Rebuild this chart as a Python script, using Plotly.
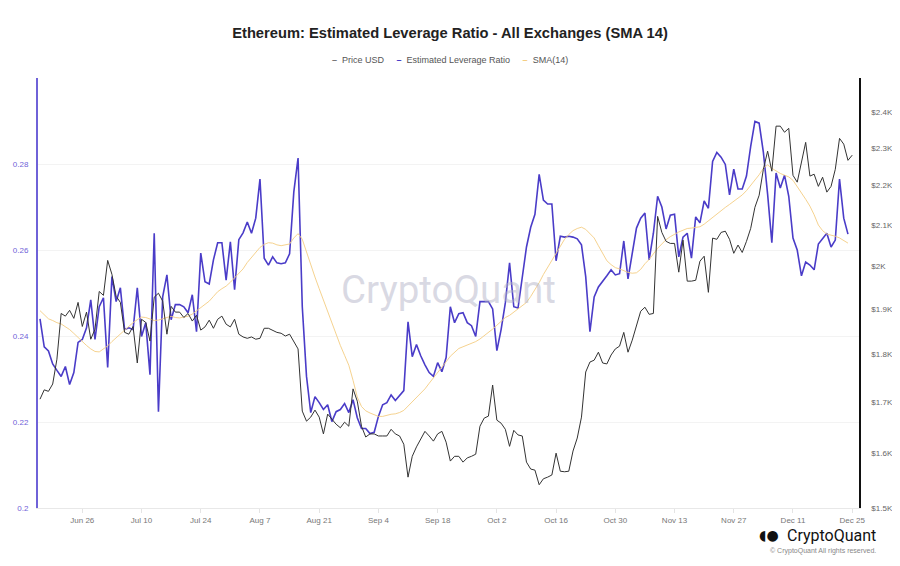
import math
import pandas as pd
import plotly.graph_objects as go

# ---------------- data ----------------
start_date = "2023-06-16"

leverage = [
    0.2440, 0.2375, 0.2365, 0.2335, 0.2320, 0.2306, 0.2329, 0.2287, 0.2315, 0.2385,
    0.2392, 0.2419, 0.2484, 0.2392, 0.2468, 0.2489, 0.2327, 0.2538, 0.2480, 0.2512,
    0.2415, 0.2419, 0.2415, 0.2512, 0.2399, 0.2431, 0.2310, 0.2639, 0.2224, 0.2491,
    0.2542, 0.2438, 0.2473, 0.2473, 0.2468, 0.2454, 0.2496, 0.2410, 0.2593, 0.2526,
    0.2521, 0.2577, 0.2617, 0.2617, 0.2530, 0.2619, 0.2508, 0.2624, 0.2640, 0.2665,
    0.2639, 0.2674, 0.2765, 0.2581, 0.2565, 0.2584, 0.2570, 0.2568, 0.2570, 0.2591,
    0.2735, 0.2814, 0.2468, 0.2306, 0.2222, 0.2259, 0.2245, 0.2229, 0.2240, 0.2201,
    0.2224, 0.2229, 0.2243, 0.2222, 0.2252, 0.2210, 0.2185, 0.2185, 0.2173, 0.2176,
    0.2213, 0.2240, 0.2245, 0.2263, 0.2250, 0.2261, 0.2273, 0.2433, 0.2352, 0.2380,
    0.2354, 0.2333, 0.2315, 0.2306, 0.2338, 0.2317, 0.2350, 0.2468, 0.2431, 0.2452,
    0.2454, 0.2431, 0.2424, 0.2399, 0.2480, 0.2480, 0.2480, 0.2463, 0.2366, 0.2415,
    0.2477, 0.2570, 0.2468, 0.2465, 0.2538, 0.2607, 0.2653, 0.2683, 0.2776, 0.2716,
    0.2707, 0.2707, 0.2575, 0.2632, 0.2630, 0.2632, 0.2630, 0.2626, 0.2612, 0.2538,
    0.2410, 0.2491, 0.2514, 0.2526, 0.2540, 0.2554, 0.2542, 0.2545, 0.2621, 0.2533,
    0.2593, 0.2651, 0.2674, 0.2686, 0.2577, 0.2639, 0.2725, 0.2700, 0.2649, 0.2681,
    0.2683, 0.2584, 0.2630, 0.2639, 0.2581, 0.2677, 0.2663, 0.2714, 0.2697, 0.2806,
    0.2827, 0.2816, 0.2799, 0.2728, 0.2788, 0.2742, 0.2742, 0.2772, 0.2841, 0.2899,
    0.2895, 0.2827, 0.2730, 0.2617, 0.2779, 0.2744, 0.2774, 0.2725, 0.2628, 0.2600,
    0.2540, 0.2572, 0.2565, 0.2554, 0.2614, 0.2628, 0.2639, 0.2607, 0.2623, 0.2765,
    0.2674, 0.2637,
]

sma14 = [
    0.2459, 0.2450, 0.2440, 0.2436, 0.2431, 0.2428, 0.2422, 0.2415, 0.2406, 0.2396,
    0.2388, 0.2378, 0.2370, 0.2364, 0.2363, 0.2369, 0.2377, 0.2387, 0.2396, 0.2405,
    0.2413, 0.2422, 0.2431, 0.2438, 0.2444, 0.2443, 0.2439, 0.2436, 0.2437, 0.2440,
    0.2444, 0.2446, 0.2443, 0.2442, 0.2444, 0.2446, 0.2451, 0.2458, 0.2466, 0.2474,
    0.2481, 0.2492, 0.2503, 0.2510, 0.2516, 0.2525, 0.2536, 0.2545, 0.2556, 0.2571,
    0.2583, 0.2596, 0.2606, 0.2613, 0.2617, 0.2616, 0.2612, 0.2610, 0.2612, 0.2614,
    0.2628, 0.2638, 0.2625, 0.2594, 0.2568, 0.2537, 0.2510, 0.2484, 0.2455, 0.2430,
    0.2402, 0.2378, 0.2355, 0.2332, 0.2297, 0.2258, 0.2236, 0.2226, 0.2221, 0.2217,
    0.2213, 0.2213, 0.2216, 0.2218, 0.2219, 0.2222, 0.2227, 0.2237, 0.2245, 0.2255,
    0.2266, 0.2277, 0.2290, 0.2302, 0.2314, 0.2328, 0.2340, 0.2353, 0.2362, 0.2371,
    0.2375, 0.2379, 0.2383, 0.2387, 0.2393, 0.2400, 0.2407, 0.2416, 0.2425, 0.2435,
    0.2443, 0.2448, 0.2455, 0.2462, 0.2470, 0.2478, 0.2492, 0.2507, 0.2524, 0.2543,
    0.2560, 0.2577, 0.2592, 0.2608, 0.2625, 0.2636, 0.2645, 0.2650, 0.2653, 0.2648,
    0.2639, 0.2628, 0.2610, 0.2593, 0.2575, 0.2566, 0.2559, 0.2556, 0.2552, 0.2548,
    0.2546, 0.2547, 0.2555, 0.2568, 0.2578, 0.2592, 0.2604, 0.2614, 0.2624, 0.2631,
    0.2637, 0.2642, 0.2646, 0.2650, 0.2651, 0.2652, 0.2654, 0.2660, 0.2668, 0.2676,
    0.2685, 0.2692, 0.2699, 0.2706, 0.2713, 0.2720, 0.2728, 0.2738, 0.2750, 0.2762,
    0.2775, 0.2790, 0.2798, 0.2790, 0.2783, 0.2778, 0.2774, 0.2770, 0.2762, 0.2748,
    0.2735, 0.2718, 0.2702, 0.2682, 0.2658, 0.2645, 0.2637, 0.2635, 0.2632, 0.2628,
    0.2622, 0.2616,
]

price_usd = [
    1707, 1726, 1723, 1738, 1790, 1890, 1884, 1897, 1879, 1915,
    1861, 1893, 1833, 1855, 1940, 1931, 2013, 1980, 1929, 1915,
    1848, 1844, 1861, 1782, 1877, 1870, 1829, 1927, 1936, 1918,
    1844, 1906, 1893, 1893, 1881, 1890, 1873, 1886, 1853, 1860,
    1875, 1857, 1877, 1884, 1866, 1860, 1877, 1844, 1838, 1835,
    1838, 1833, 1835, 1857, 1857, 1853, 1848, 1846, 1840, 1844,
    1829, 1812, 1683, 1663, 1671, 1685, 1671, 1638, 1677, 1667,
    1657, 1650, 1661, 1653, 1728, 1703, 1653, 1632, 1638, 1638,
    1634, 1634, 1634, 1647, 1638, 1634, 1618, 1556, 1595, 1613,
    1628, 1643, 1634, 1624, 1638, 1643, 1622, 1586, 1595, 1595,
    1584, 1592, 1595, 1599, 1653, 1669, 1673, 1736, 1665, 1659,
    1647, 1614, 1645, 1636, 1634, 1584, 1571, 1569, 1542, 1553,
    1556, 1560, 1601, 1567, 1566, 1567, 1605, 1630, 1671, 1763,
    1784, 1788, 1805, 1782, 1780, 1799, 1812, 1818, 1848, 1805,
    1831, 1861, 1895, 1904, 1888, 1890, 2121, 2081, 2059, 2054,
    2054, 1985, 2062, 1964, 1964, 1966, 2011, 2023, 1938, 2067,
    2064, 2081, 2084, 2064, 2030, 2050, 2032, 2059, 2091, 2144,
    2175, 2243, 2292, 2238, 2361, 2361, 2344, 2355, 2227, 2209,
    2259, 2316, 2225, 2230, 2198, 2222, 2183, 2198, 2243, 2327,
    2311, 2267, 2281,
]

x_tick_dates = ["2023-06-26", "2023-07-10", "2023-07-24", "2023-08-07", "2023-08-21",
                "2023-09-04", "2023-09-18", "2023-10-02", "2023-10-16", "2023-10-30",
                "2023-11-13", "2023-11-27", "2023-12-11", "2023-12-25"]
x_tick_labels = ["Jun 26", "Jul 10", "Jul 24", "Aug 7", "Aug 21", "Sep 4", "Sep 18",
                 "Oct 2", "Oct 16", "Oct 30", "Nov 13", "Nov 27", "Dec 11", "Dec 25"]

left_ticks = [0.2, 0.22, 0.24, 0.26, 0.28]
left_tick_labels = ["0.2", "0.22", "0.24", "0.26", "0.28"]
right_ticks = [1500, 1600, 1700, 1800, 1900, 2000, 2100, 2200, 2300, 2400]
right_tick_labels = ["$1.5K", "$1.6K", "$1.7K", "$1.8K", "$1.9K", "$2K",
                     "$2.1K", "$2.2K", "$2.3K", "$2.4K"]

series_names = ["Price USD", "Estimated Leverage Ratio", "SMA(14)"]

lev_dates = pd.date_range(start_date, periods=len(leverage), freq="D")
price_dates = pd.date_range(start_date, periods=len(price_usd), freq="D")

# ---------------- styles ----------------
SANS = "Liberation Sans, Arial, sans-serif"
BLUE = "#4a3cc8"
AXIS_PURPLE = "#6f62d8"
SMA_COLOR = "#f4cd82"
PRICE_COLOR = "#333333"

fig = go.Figure()
fig.add_trace(go.Scatter(x=price_dates, y=price_usd, name=series_names[0], mode="lines",
                         line=dict(color=PRICE_COLOR, width=1), yaxis="y2", showlegend=False))
fig.add_trace(go.Scatter(x=lev_dates, y=leverage, name=series_names[1], mode="lines",
                         line=dict(color=BLUE, width=1.6), showlegend=False))
fig.add_trace(go.Scatter(x=lev_dates, y=sma14, name=series_names[2], mode="lines",
                         line=dict(color=SMA_COLOR, width=0.9), showlegend=False))

# compact legend (short line keys), written as text
legend_colors = ["#777", BLUE, SMA_COLOR]
gap = "\u00a0" * 5
legend_text = gap.join(
    f"<span style='color:{c}'><b>\u2013</b></span>\u00a0\u00a0{n}"
    for c, n in zip(legend_colors, series_names)
)

# page has an 8px body margin: figure is 892x550 placed at (8, 8)
fig.update_layout(
    width=892, height=550,
    margin=dict(l=30, r=41, t=70, b=50, autoexpand=False),
    paper_bgcolor="white", plot_bgcolor="white",
    font=dict(family=SANS, color="#555"),
    showlegend=False,
    title=dict(text="<b>Ethereum: Estimated Leverage Ratio - All Exchanges (SMA 14)</b>",
               x=(450 - 8) / 892, xanchor="center", y=1 - 25 / 550, yanchor="middle",
               yref="container", xref="container",
               font=dict(size=14.7, color="#222", family=SANS)),
    xaxis=dict(type="date", range=["2023-06-15 12:40", "2023-12-26 14:30"],
               tickvals=x_tick_dates, ticktext=x_tick_labels,
               tickfont=dict(size=8, color="#777"), showgrid=False,
               showline=True, linecolor="#e8e8e8", linewidth=1,
               ticks="outside", ticklen=4, tickcolor="#e4e4e4", zeroline=False),
    yaxis=dict(range=[0.2, 0.3], tickvals=left_ticks, ticktext=left_tick_labels,
               tickfont=dict(size=8, color=AXIS_PURPLE), showgrid=True, gridcolor="#f3f3f3",
               showline=True, linecolor=AXIS_PURPLE, linewidth=2, zeroline=False,
               ticks="", ticklabelstandoff=6),
    yaxis2=dict(type="log", range=[math.log10(1500), math.log10(2500)], overlaying="y",
                side="right", tickvals=right_ticks, ticktext=right_tick_labels,
                tickfont=dict(size=8, color="#666"), showgrid=False,
                showline=True, linecolor="#111", linewidth=1.5, zeroline=False,
                ticks="", ticklabelstandoff=9),
    annotations=[
        dict(text=legend_text, x=0.502, y=1.042, xref="paper", yref="paper",
             showarrow=False, font=dict(size=9, color="#555", family=SANS),
             xanchor="center", yanchor="middle"),
        dict(text="CryptoQuant", x=0.5, y=0.507, xref="paper", yref="paper",
             showarrow=False, font=dict(size=38.5, color="rgba(180,180,200,0.5)", family="Roboto"),
             xanchor="center", yanchor="middle"),
        dict(text="CryptoQuant", x=1.023, y=-0.063, xref="paper", yref="paper",
             showarrow=False, font=dict(size=16, color="#111", family="Roboto"),
             xanchor="right", yanchor="middle"),
        dict(text="◖●", x=0.9055, y=-0.063, xref="paper", yref="paper",
             showarrow=False, font=dict(size=14, color="#111", family="DejaVu Sans"),
             xanchor="right", yanchor="middle"),
        dict(text="© CryptoQuant All rights reserved.", x=1.023, y=-0.1, xref="paper",
             yref="paper", showarrow=False, font=dict(size=7, color="#888", family=SANS),
             xanchor="right", yanchor="middle"),
    ],
)

fig.write_html("out.html")
